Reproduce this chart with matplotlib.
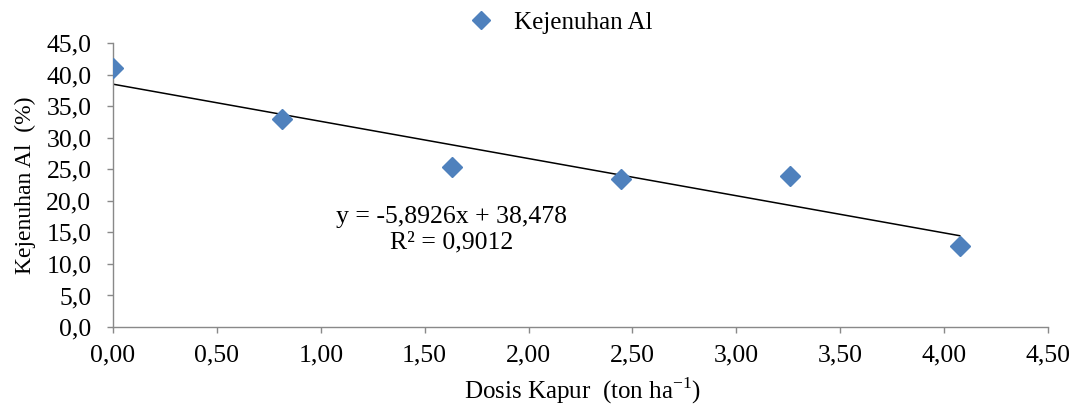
import matplotlib
matplotlib.use('Agg')
import numpy as np
import matplotlib.pyplot as plt
from matplotlib.ticker import FuncFormatter, MultipleLocator

# data
dosis = [0.0, 0.815, 1.63, 2.445, 3.26, 4.075]
kejenuhan = [41.0, 33.0, 25.4, 23.5, 23.9, 12.9]
slope, intercept = -5.8926, 38.478
eq_text = 'y = -5,8926x + 38,478\nR² = 0,9012'

plt.rcParams['font.family'] = ['Liberation Serif', 'DejaVu Serif']
plt.rcParams['mathtext.fontset'] = 'custom'
plt.rcParams['mathtext.rm'] = 'Liberation Serif'

fig = plt.figure(figsize=(10.78, 4.08), dpi=100)
ax = fig.add_axes([0.1048, 0.1985, 0.8674, 0.6961])

ax.plot(dosis, kejenuhan, linestyle='none', marker='D', markersize=10,
        color='#4F81BD', label='Kejenuhan Al', zorder=3)

# linear trend over the data range
xt = np.array([dosis[0], dosis[-1]])
ax.plot(xt, slope * xt + intercept, color='black', linewidth=1.1, zorder=2)

ax.set_xlim(0, 4.5)
ax.set_ylim(0, 45)
ax.xaxis.set_major_locator(MultipleLocator(0.5))
ax.yaxis.set_major_locator(MultipleLocator(5))
ax.xaxis.set_major_formatter(FuncFormatter(lambda v, p: f'{v:.2f}'.replace('.', ',')))
ax.yaxis.set_major_formatter(FuncFormatter(lambda v, p: f'{v:.1f}'.replace('.', ',')))

for s in ['top', 'right']:
    ax.spines[s].set_visible(False)
for s in ['left', 'bottom']:
    ax.spines[s].set_color('#898989')
    ax.spines[s].set_linewidth(1.0)
ax.tick_params(axis='both', direction='out', length=4.5, width=1.0, color='#898989',
               labelsize=18.5, labelcolor='black')
ax.tick_params(axis='y', pad=11)
ax.tick_params(axis='x', pad=8)

ax.set_xlabel(r'Dosis Kapur  (ton ha$^{\mathregular{-1}}$)', fontsize=18)
ax.xaxis.set_label_coords(0.502, -0.172)
ax.set_ylabel('Kejenuhan Al  (%)', fontsize=17)
ax.yaxis.set_label_coords(-0.082, 0.5)

ax.text(1.63, 15.4, eq_text, fontsize=18.5, ha='center', va='center',
        linespacing=1.2)

fig.legend(loc='center', bbox_to_anchor=(0.514, 0.945), frameon=False,
           fontsize=18, handletextpad=0.3, markerscale=0.95)

fig.savefig('out.png', dpi=100)
